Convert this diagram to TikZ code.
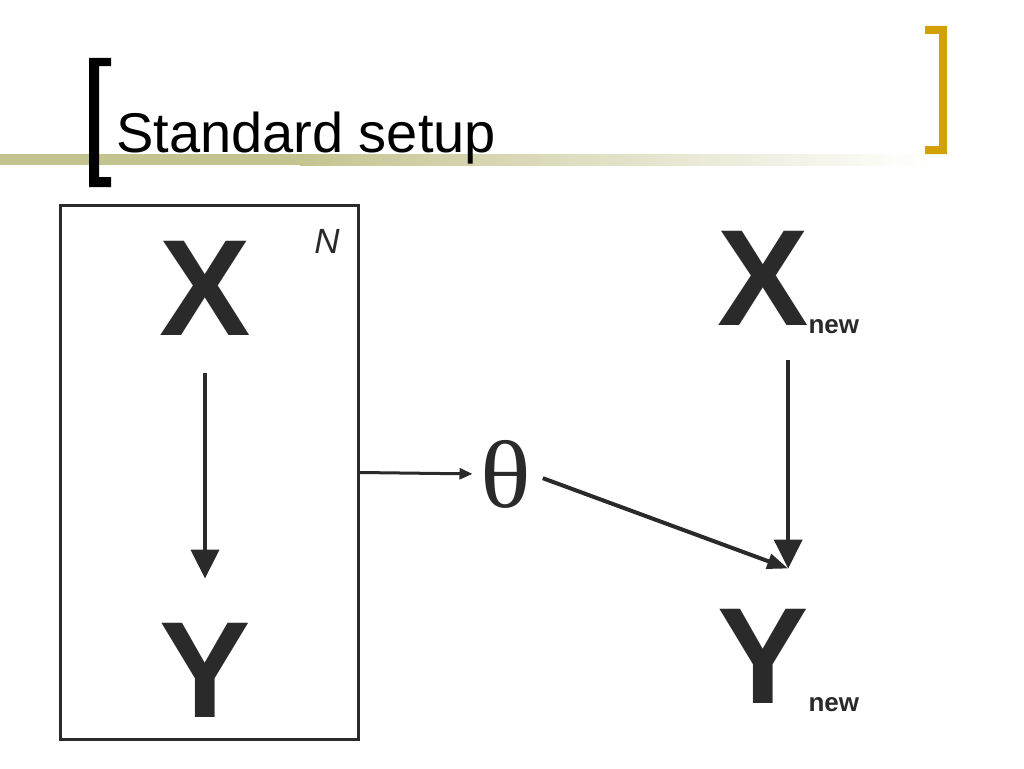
\documentclass[tikz,border=0pt]{standalone}
\usepackage{fontspec}
\setmainfont{Liberation Sans}
\newfontfamily\serifth{Liberation Serif}
\usetikzlibrary{arrows.meta}
\definecolor{ink}{RGB}{42,42,42}
\definecolor{gold}{RGB}{212,160,10}
\definecolor{olive}{RGB}{196,196,145}
\tikzset{
  big/.style={inner sep=0pt, font=\bfseries\fontsize{137}{137}\selectfont, text=ink},
  arrbig/.style={line width=4pt, draw=ink, -{Triangle[width=28pt,length=29pt]}},
  arrsmall/.style={line width=3pt, draw=ink, -{Triangle[width=11pt,length=13pt]}},
  arrmid/.style={line width=4pt, draw=ink, -{Triangle[width=15pt,length=21pt]}},
}
\newcommand{\subnew}{\raisebox{-8pt}{\fontsize{26}{26}\selectfont new}}
\begin{document}
\begin{tikzpicture}[x=1pt,y=-1pt]
\useasboundingbox (0,0) rectangle (1024,768);
% title decoration
\fill[olive] (0,154) rectangle (300,165);
\shade[left color=olive, right color=white] (300,154) rectangle (930,165);
\fill[black] (89,58) -- (111,58) -- (111,66) -- (99,66) -- (99,177) -- (111,177) -- (111,187) -- (89,187) -- cycle;
\fill[gold] (925,26) -- (947,26) -- (947,154) -- (925,154) -- (925,146) -- (939,146) -- (939,34) -- (925,34) -- cycle;
\node[anchor=base west, inner sep=0pt, font=\fontsize{56}{56}\selectfont] (title) at (116,152) {Standard setup};
% plate
\node[draw=ink, line width=3pt, minimum width=298pt, minimum height=534pt, inner sep=0pt] (plate) at (209.5,472.5) {};
\node[anchor=base, inner sep=0pt, font=\itshape\fontsize{35}{35}\selectfont, text=ink] (N) at (327,253) {N};
\node[big, anchor=base] (X) at (205,335) {X};
\node[big, anchor=base] (Y) at (205,717) {Y};
\draw[arrbig, shorten <=38pt, shorten >=44pt] (X.south) -- (Y.north);
% theta
\node[inner sep=0pt, font=\serifth\fontsize{96}{96}\selectfont, text=ink] (theta) at (506,474) {\scalebox{1.1}[1]{θ}};
\draw[arrsmall, shorten >=8pt] (plate.east) -- (theta.west);
% new nodes
\node[big, anchor=base west, inner ysep=27pt] (xnew) at (717,325) {X\subnew};
\node[big, anchor=base west, inner ysep=40pt] (ynew) at (717,703) {Y\subnew};
\draw[arrbig] (xnew.south) -- (ynew.north);
\draw[arrmid, shorten <=12pt] (theta.east) -- (ynew.north);
\end{tikzpicture}
\end{document}
